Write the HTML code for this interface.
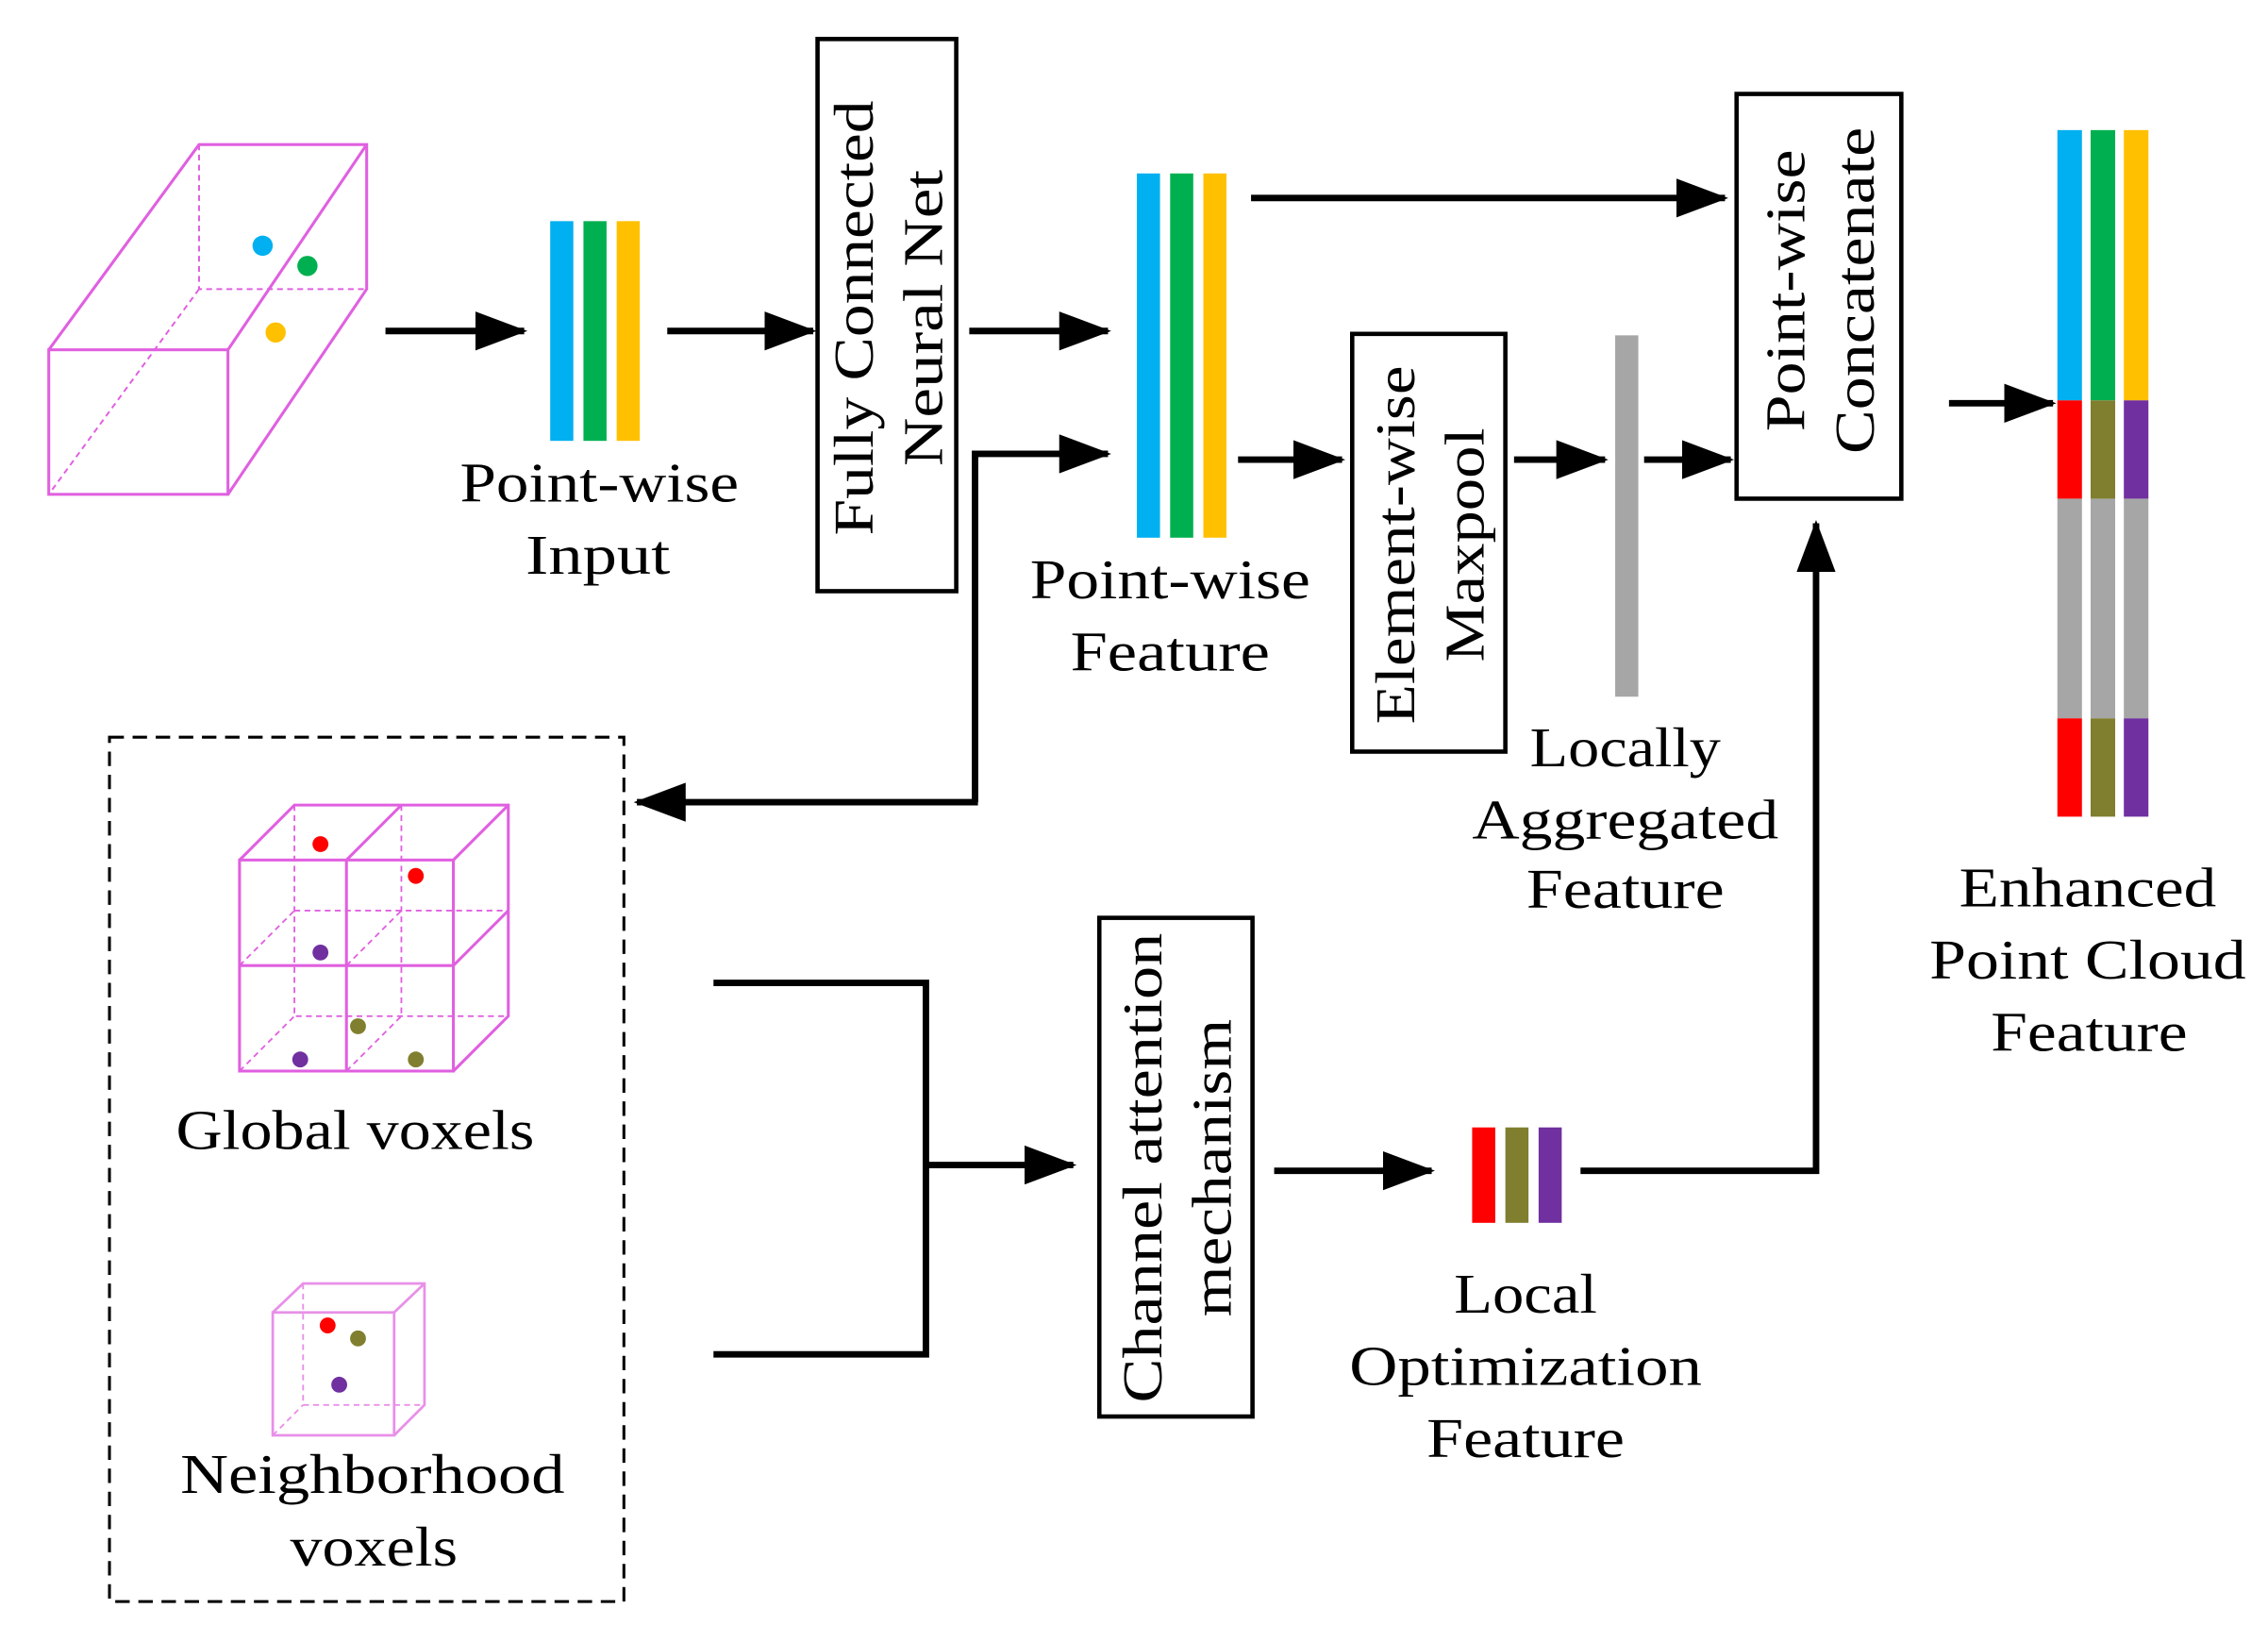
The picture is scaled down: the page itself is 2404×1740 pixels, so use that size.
<!DOCTYPE html>
<html><head><meta charset="utf-8"><style>
html,body{margin:0;padding:0;background:#fff;}
svg{display:block;}
text{font-family:"Liberation Serif",serif;font-size:39px;fill:#000;}
</style></head><body>
<svg width="2404" height="1740" viewBox="0 0 1568 1136" xmlns="http://www.w3.org/2000/svg">
<defs>
<marker id="a" markerWidth="8" markerHeight="6" refX="7.5" refY="3" orient="auto" markerUnits="strokeWidth"><path d="M0,0 L8,3 L0,6 Z" fill="#000"/></marker>
</defs>
<g fill="none" stroke="#000" stroke-width="4.5" marker-end="url(#a)">
<line x1="266" y1="229" x2="362" y2="229"/>
<line x1="461" y1="229" x2="562" y2="229"/>
<line x1="670" y1="229" x2="766" y2="229"/>
<line x1="865" y1="137" x2="1193" y2="137"/>
<line x1="856" y1="318" x2="928" y2="318"/>
<line x1="1047" y1="318" x2="1110" y2="318"/>
<line x1="1137" y1="318" x2="1197" y2="318"/>
<line x1="1348" y1="279" x2="1420" y2="279"/>
<polyline points="674,555 674,314 766,314"/>
<line x1="676" y1="555" x2="440" y2="555"/>
<line x1="640" y1="806" x2="742" y2="806"/>
<line x1="881" y1="810" x2="990" y2="810"/>
<polyline points="1093,810 1256,810 1256,362"/>
</g>
<polyline points="493,680 640,680 640,937 493,937" fill="none" stroke="#000" stroke-width="4.5"/>
<g fill="none" stroke="#e060e0" stroke-width="2">
<rect x="33" y="242" width="124" height="100"/>
<polyline points="33,242 137,100 253,100 253,200 157,342"/>
<line x1="157" y1="242" x2="253" y2="100"/>
<g stroke-dasharray="4,3" stroke-width="1.3"><polyline points="137,100 137,200 253,200"/><line x1="137" y1="200" x2="33" y2="342"/></g>
</g>
<circle cx="181" cy="170" r="7" fill="#00b0f0"/><circle cx="212" cy="184" r="7" fill="#00b050"/><circle cx="190" cy="230" r="7" fill="#ffc000"/>
<rect x="380" y="153" width="16" height="152" fill="#00b0f0"/><rect x="403" y="153" width="16" height="152" fill="#00b050"/><rect x="426" y="153" width="16" height="152" fill="#ffc000"/>
<rect x="786" y="120" width="16" height="252" fill="#00b0f0"/><rect x="809" y="120" width="16" height="252" fill="#00b050"/><rect x="832" y="120" width="16" height="252" fill="#ffc000"/>
<rect x="1117" y="232" width="16" height="250" fill="#a6a6a6"/>
<g>
<rect x="1423" y="90" width="17" height="187" fill="#00b0f0"/><rect x="1446" y="90" width="17" height="187" fill="#00b050"/><rect x="1469" y="90" width="17" height="187" fill="#ffc000"/>
<rect x="1423" y="277" width="17" height="68" fill="#ff0000"/><rect x="1446" y="277" width="17" height="68" fill="#7f7f2f"/><rect x="1469" y="277" width="17" height="68" fill="#7030a0"/>
<rect x="1423" y="345" width="17" height="152" fill="#a6a6a6"/><rect x="1446" y="345" width="17" height="152" fill="#a6a6a6"/><rect x="1469" y="345" width="17" height="152" fill="#a6a6a6"/>
<rect x="1423" y="497" width="17" height="68" fill="#ff0000"/><rect x="1446" y="497" width="17" height="68" fill="#7f7f2f"/><rect x="1469" y="497" width="17" height="68" fill="#7030a0"/>
</g>
<rect x="1018" y="780" width="16" height="66" fill="#ff0000"/><rect x="1041" y="780" width="16" height="66" fill="#7f7f2f"/><rect x="1064" y="780" width="16" height="66" fill="#7030a0"/>
<g fill="none" stroke="#000" stroke-width="3">
<rect x="565" y="27" width="96" height="382"/>
<rect x="935" y="231" width="106" height="289"/>
<rect x="1201" y="65" width="114" height="280"/>
<rect x="760" y="635" width="106" height="345"/>
</g>
<rect x="75" y="510" width="356" height="598" fill="none" stroke="#000" stroke-width="2" stroke-dasharray="10,6"/>
<g fill="none" stroke="#e060e0" stroke-width="2">
<rect x="165" y="595" width="148" height="146"/>
<line x1="239" y1="595" x2="239" y2="741"/><line x1="165" y1="668" x2="313" y2="668"/>
<polyline points="165,595 203,557 351,557 351,703 313,741"/>
<line x1="313" y1="595" x2="351" y2="557"/><line x1="239" y1="595" x2="277" y2="557"/>
<line x1="313" y1="668" x2="351" y2="630"/>
<g stroke-dasharray="4,3" stroke-width="1.2">
<polyline points="203,557 203,703 351,703"/><line x1="165" y1="741" x2="203" y2="703"/>
<line x1="277" y1="557" x2="277" y2="703"/><line x1="203" y1="630" x2="351" y2="630"/>
<line x1="165" y1="668" x2="203" y2="630"/><line x1="239" y1="741" x2="277" y2="703"/>
<line x1="239" y1="668" x2="277" y2="630"/>
</g>
</g>
<circle cx="221" cy="584" r="5.5" fill="#ff0000"/><circle cx="287" cy="606" r="5.5" fill="#ff0000"/>
<circle cx="221" cy="659" r="5.5" fill="#7030a0"/><circle cx="207" cy="733" r="5.5" fill="#7030a0"/>
<circle cx="247" cy="710" r="5.5" fill="#7f7f2f"/><circle cx="287" cy="733" r="5.5" fill="#7f7f2f"/>
<g fill="none" stroke="#e890e8" stroke-width="1.8">
<rect x="188" y="908" width="84" height="85"/>
<polyline points="188,908 209,888 293,888 293,972 272,993"/>
<line x1="272" y1="908" x2="293" y2="888"/>
<g stroke-dasharray="4,3" stroke-width="1.2"><polyline points="209,888 209,972 293,972"/><line x1="188" y1="993" x2="209" y2="972"/></g>
</g>
<circle cx="226" cy="917" r="5.5" fill="#ff0000"/><circle cx="247" cy="926" r="5.5" fill="#7f7f2f"/><circle cx="234" cy="958" r="5.5" fill="#7030a0"/>
<g text-anchor="middle" lengthAdjust="spacingAndGlyphs">
<text x="414" y="347" textLength="193" lengthAdjust="spacingAndGlyphs">Point-wise</text><text x="413" y="397" textLength="100" lengthAdjust="spacingAndGlyphs">Input</text>
<text x="809" y="414" textLength="194" lengthAdjust="spacingAndGlyphs">Point-wise</text><text x="809" y="464" textLength="138" lengthAdjust="spacingAndGlyphs">Feature</text>
<text x="1124" y="530" textLength="132" lengthAdjust="spacingAndGlyphs">Locally</text><text x="1124" y="580" textLength="212" lengthAdjust="spacingAndGlyphs">Aggregated</text><text x="1124" y="628" textLength="137" lengthAdjust="spacingAndGlyphs">Feature</text>
<text x="1444" y="627" textLength="178" lengthAdjust="spacingAndGlyphs">Enhanced</text><text x="1444" y="677" textLength="219" lengthAdjust="spacingAndGlyphs">Point Cloud</text><text x="1445" y="727" textLength="136" lengthAdjust="spacingAndGlyphs">Feature</text>
<text x="245" y="795" textLength="248" lengthAdjust="spacingAndGlyphs">Global voxels</text>
<text x="257" y="1033" textLength="266" lengthAdjust="spacingAndGlyphs">Neighborhood</text><text x="258" y="1083" textLength="116" lengthAdjust="spacingAndGlyphs">voxels</text>
<text x="1055" y="908" textLength="99" lengthAdjust="spacingAndGlyphs">Local</text><text x="1055" y="958" textLength="244" lengthAdjust="spacingAndGlyphs">Optimization</text><text x="1055" y="1008" textLength="137" lengthAdjust="spacingAndGlyphs">Feature</text>
<g transform="translate(613,220) rotate(-90)"><text x="0" y="-10" textLength="301" lengthAdjust="spacingAndGlyphs">Fully Connected</text><text x="0" y="38" textLength="205" lengthAdjust="spacingAndGlyphs">Neural Net</text></g>
<g transform="translate(988,377) rotate(-90)"><text x="0" y="-10" textLength="248" lengthAdjust="spacingAndGlyphs">Element-wise</text><text x="0" y="38" textLength="162" lengthAdjust="spacingAndGlyphs">Maxpool</text></g>
<g transform="translate(1258,201) rotate(-90)"><text x="0" y="-10" textLength="195" lengthAdjust="spacingAndGlyphs">Point-wise</text><text x="0" y="38" textLength="226" lengthAdjust="spacingAndGlyphs">Concatenate</text></g>
<g transform="translate(813,808) rotate(-90)"><text x="0" y="-10" textLength="325" lengthAdjust="spacingAndGlyphs">Channel attention</text><text x="0" y="38" textLength="206" lengthAdjust="spacingAndGlyphs">mechanism</text></g>
</g>
</svg>
</body></html>
